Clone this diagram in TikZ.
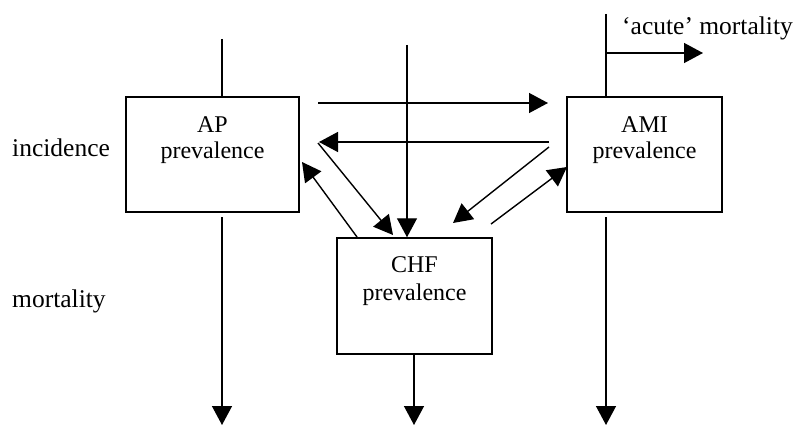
\documentclass[tikz,border=0pt]{standalone}
\usepackage{fontspec}
\setmainfont{Liberation Serif}
\usetikzlibrary{arrows.meta,calc}
\tikzset{
  box/.style={draw, line width=1.5pt, minimum width=#1, minimum height=115pt, inner sep=0pt},
  flow/.style={line width=1.4pt, -{Triangle[length=19pt,width=20pt]}},
  plain/.style={line width=1.4pt},
  boxtext/.style={font=\fontsize{24}{26}\selectfont, align=center, inner sep=0pt, anchor=base},
  lab/.style={font=\fontsize{25.5}{28}\selectfont, inner sep=0pt, anchor=base west}
}
\begin{document}
\begin{tikzpicture}[x=1pt,y=-1pt]
\useasboundingbox (0,0) rectangle (800,425);
% boxes
\node[box=173pt] (ap) at (212.5,154.5) {};
\node[box=155pt] (ami) at (644.5,154.5) {};
\node[box=155pt, minimum height=116pt] (chf) at (414.5,296) {};
\node[boxtext] (aptext) at (212.5,158) {AP\\prevalence};
\node[boxtext] (amitext) at (644.5,158) {AMI\\prevalence};
\node[boxtext, font=\fontsize{24}{28}\selectfont] (chftext) at (414.5,300) {CHF\\prevalence};
% labels
\node[lab] (inc) at (12,157) {incidence};
\node[lab] (mort) at (12,307) {mortality};
\node[lab] (acute) at (622,35) {`acute' mortality};
% coordinates
\coordinate (apin) at (222,39);
\coordinate (apout) at (222,217);
\coordinate (apend) at (222,425);
\coordinate (chfin) at (407,45);
\coordinate (chfout) at (414,354);
\coordinate (chfend) at (414,425);
\coordinate (amiin) at (606,14);
\coordinate (amiout) at (606,217);
\coordinate (amiend) at (606,425);
\coordinate (acs) at (606,53);
\coordinate (ace) at (703,53);
\coordinate (h1s) at (318,103);
\coordinate (h1e) at (548,103);
\coordinate (h2s) at (549,142);
\coordinate (h2e) at (319,142);
\coordinate (d1s) at (318,143);
\coordinate (d1e) at (393,235);
\coordinate (d2s) at (357,237);
\coordinate (d2e) at (302,162);
\coordinate (d3s) at (549,147);
\coordinate (d3e) at (453,223);
\coordinate (d4s) at (491,224);
\coordinate (d4e) at (567,167);
% vertical flows
\draw[plain] (apin) -- (apin |- ap.north);
\draw[flow] (apout) -- (apend);
\draw[flow] (chfin) -- (chfin |- chf.north);
\draw[flow] (chfout) -- (chfend);
\draw[plain] (amiin) -- (amiin |- ami.north);
\draw[flow] (amiout) -- (amiend);
\draw[flow] (acs) -- (ace);
% transitions
\draw[flow] (h1s) -- (h1e);
\draw[flow] (h2s) -- (h2e);
\draw[flow] (d1s) -- (d1e);
\draw[flow] (d2s) -- (d2e);
\draw[flow] (d3s) -- (d3e);
\draw[flow] (d4s) -- (d4e);
\end{tikzpicture}
\end{document}
